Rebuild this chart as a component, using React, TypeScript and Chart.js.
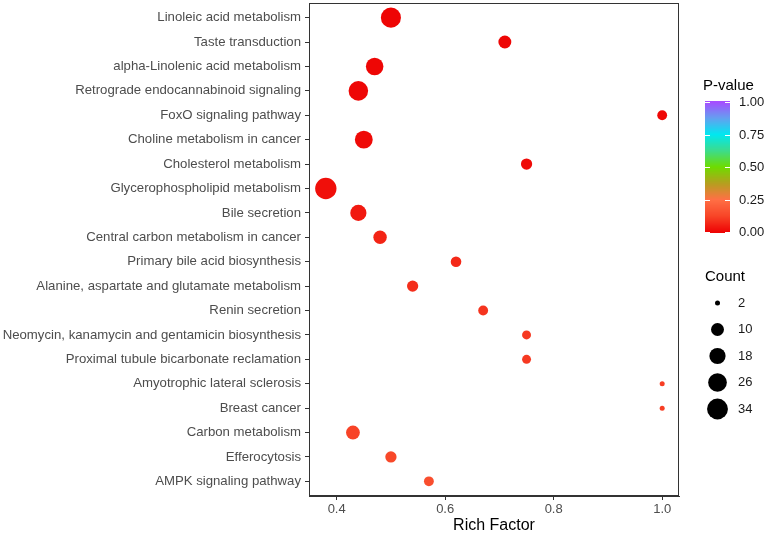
import { useEffect, useRef } from "react";
import { Chart, registerables } from "chart.js";

Chart.register(...registerables);

const pathways = [
  "Linoleic acid metabolism",
  "Taste transduction",
  "alpha-Linolenic acid metabolism",
  "Retrograde endocannabinoid signaling",
  "FoxO signaling pathway",
  "Choline metabolism in cancer",
  "Cholesterol metabolism",
  "Glycerophospholipid metabolism",
  "Bile secretion",
  "Central carbon metabolism in cancer",
  "Primary bile acid biosynthesis",
  "Alanine, aspartate and glutamate metabolism",
  "Renin secretion",
  "Neomycin, kanamycin and gentamicin biosynthesis",
  "Proximal tubule bicarbonate reclamation",
  "Amyotrophic lateral sclerosis",
  "Breast cancer",
  "Carbon metabolism",
  "Efferocytosis",
  "AMPK signaling pathway",
];
const richFactor = [0.5, 0.71, 0.47, 0.44, 1.0, 0.45, 0.75, 0.38, 0.44, 0.48, 0.62, 0.54, 0.67, 0.75, 0.75, 1.0, 1.0, 0.43, 0.5, 0.57];
const geneCount = [31, 10, 22, 29, 5, 23, 7, 36, 18, 11, 6, 7, 5, 4, 4, 2, 2, 12, 7, 5];
const pValue = [0.001, 0.003, 0.004, 0.006, 0.008, 0.012, 0.014, 0.02, 0.04, 0.06, 0.07, 0.08, 0.09, 0.1, 0.1, 0.11, 0.11, 0.12, 0.13, 0.15];
const xTicks = [0.4, 0.6, 0.8, 1.0];
const pTicks = [0, 0.25, 0.5, 0.75, 1.0];
const pTickLabels = ["0.00", "0.25", "0.50", "0.75", "1.00"];
const countBreaks = [2, 10, 18, 26, 34];

const FONT = '"Liberation Sans", Arial, Helvetica, sans-serif';

const colorStops: [number, [number, number, number]][] = [
  [0.0, [238, 4, 4]],
  [0.125, [248, 70, 40]],
  [0.25, [255, 112, 69]],
  [0.375, [180, 160, 30]],
  [0.5, [110, 220, 0]],
  [0.625, [60, 220, 140]],
  [0.75, [0, 232, 240]],
  [0.875, [100, 160, 240]],
  [1.0, [166, 77, 255]],
];

function pColor(p: number): string {
  const v = Math.max(0, Math.min(1, p));
  for (let i = 0; i < colorStops.length - 1; i++) {
    const [a, ca] = colorStops[i];
    const [b, cb] = colorStops[i + 1];
    if (v >= a && v <= b) {
      const t = (v - a) / (b - a);
      const c = ca.map((x, k) => Math.round(x + (cb[k] - x) * t));
      return `rgb(${c[0]},${c[1]},${c[2]})`;
    }
  }
  const c = colorStops[colorStops.length - 1][1];
  return `rgb(${c[0]},${c[1]},${c[2]})`;
}

function radius(c: number): number {
  return 2.5 + 1.4 * Math.sqrt(Math.max(c - 2, 0));
}

const legendPlugin = {
  id: "customLegend",
  afterDraw(chart: any) {
    const { ctx, chartArea } = chart;
    ctx.save();
    // panel border
    ctx.strokeStyle = "#333333";
    ctx.lineWidth = 1;
    ctx.strokeRect(chartArea.left + 0.5, chartArea.top + 0.5, chartArea.right - chartArea.left - 1, chartArea.bottom - chartArea.top - 1);

    // P-value colorbar
    ctx.fillStyle = "#000";
    ctx.font = `15px ${FONT}`;
    ctx.textAlign = "left";
    ctx.textBaseline = "middle";
    ctx.fillText("P-value", 703, 86);
    const barX = 705, barW = 25, y0 = 232, y1 = 102;
    const top = 101, bottom = 233;
    for (let y = top; y < bottom; y++) {
      const v = (y0 - (y + 0.5)) / (y0 - y1);
      ctx.fillStyle = pColor(v);
      ctx.fillRect(barX, y, barW, 1);
    }
    ctx.strokeStyle = "#ffffff";
    ctx.lineWidth = 1;
    ctx.font = `13px ${FONT}`;
    ctx.fillStyle = "#1a1a1a";
    pTicks.forEach((v, i) => {
      const y = Math.round(y0 - v * (y0 - y1)) + 0.5;
      ctx.beginPath();
      ctx.moveTo(barX, y);
      ctx.lineTo(barX + 5, y);
      ctx.moveTo(barX + barW - 5, y);
      ctx.lineTo(barX + barW, y);
      ctx.stroke();
      ctx.fillText(pTickLabels[i], 739, y);
    });

    // Count legend
    ctx.fillStyle = "#000";
    ctx.font = `15px ${FONT}`;
    ctx.fillText("Count", 705, 277);
    ctx.font = `13px ${FONT}`;
    countBreaks.forEach((c, i) => {
      const y = 303 + i * 26.5;
      ctx.fillStyle = "#000";
      ctx.beginPath();
      ctx.arc(717.5, y, radius(c), 0, Math.PI * 2);
      ctx.fill();
      ctx.fillStyle = "#1a1a1a";
      ctx.fillText(String(c), 738, y);
    });
    ctx.restore();
  },
};

export default function App() {
  const canvasRef = useRef<HTMLCanvasElement | null>(null);

  useEffect(() => {
    document.body.style.margin = "0";
    const canvas = canvasRef.current;
    if (!canvas) return;
    const chart = new Chart(canvas, {
      type: "scatter",
      data: {
        datasets: [
          {
            data: pathways.map((_, i) => ({ x: richFactor[i], y: i })),
            pointRadius: (ctx: any) => radius(geneCount[ctx.dataIndex]),
            pointHoverRadius: (ctx: any) => radius(geneCount[ctx.dataIndex]),
            backgroundColor: (ctx: any) => pColor(pValue[ctx.dataIndex]),
            borderWidth: 0,
            pointBorderWidth: 0,
          } as any,
        ],
      },
      options: {
        animation: false,
        responsive: true,
        maintainAspectRatio: false,
        layout: { autoPadding: false, padding: { left: 0, right: 88, top: 3, bottom: 0 } },
        plugins: {
          legend: { display: false },
          tooltip: { enabled: false },
        },
        scales: {
          x: {
            type: "linear",
            min: 0.349,
            max: 1.031,
            afterBuildTicks: (axis: any) => {
              axis.ticks = xTicks.map((v) => ({ value: v }));
            },
            afterFit: (scale: any) => {
              scale.height = 39;
              scale.paddingLeft = 0;
              scale.paddingRight = 0;
            },
            grid: { drawOnChartArea: false, drawTicks: true, tickLength: 4, color: "#333333", lineWidth: 1 },
            border: { display: true, color: "#333333", width: 1 },
            ticks: {
              color: "#4d4d4d",
              font: { size: 13, family: FONT },
              padding: 2,
              maxRotation: 0,
              callback: (v: any) => Number(v).toFixed(1),
            },
            title: {
              display: true,
              text: "Rich Factor",
              color: "#000000",
              font: { size: 16, family: FONT },
              padding: { top: 0, bottom: 0 },
            },
          },
          y: {
            type: "linear",
            reverse: true,
            min: -0.6,
            max: 19.6,
            afterBuildTicks: (axis: any) => {
              axis.ticks = pathways.map((_, i) => ({ value: i }));
            },
            afterFit: (scale: any) => {
              scale.width = 309;
              scale.paddingTop = 0;
              scale.paddingBottom = 0;
            },
            grid: { drawOnChartArea: false, drawTicks: true, tickLength: 4, color: "#333333", lineWidth: 1 },
            border: { display: true, color: "#333333", width: 1 },
            ticks: {
              color: "#4d4d4d",
              font: { size: 13.2, family: FONT },
              padding: 4,
              autoSkip: false,
              callback: (v: any) => pathways[Math.round(Number(v))] ?? "",
            },
          },
        },
      },
      plugins: [legendPlugin],
    } as any);
    return () => chart.destroy();
  }, []);

  return (
    <div style={{ width: 767, height: 535, position: "relative", background: "#fff" }}>
      <canvas ref={canvasRef} />
    </div>
  );
}
